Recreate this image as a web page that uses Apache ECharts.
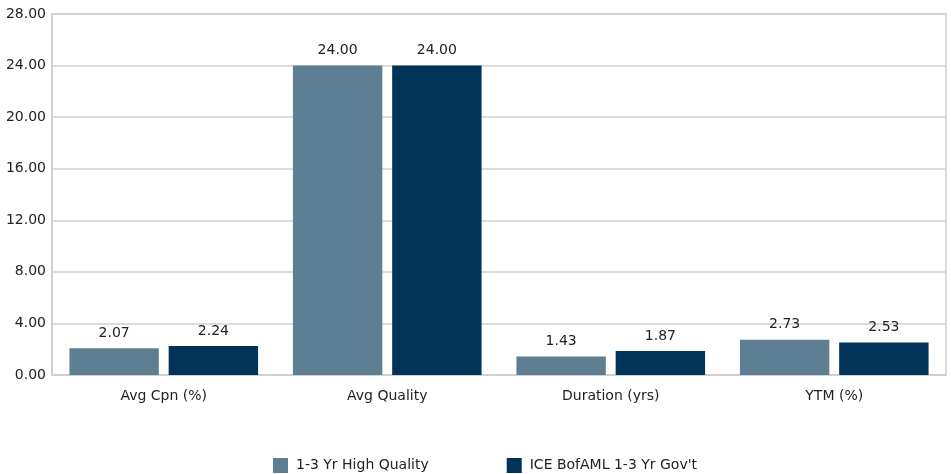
<!DOCTYPE html>
<html><head><meta charset="utf-8">
<script src="https://cdn.jsdelivr.net/npm/echarts@6/dist/echarts.min.js"></script>
<style>html,body{margin:0;padding:0;background:#fff}#c{width:951px;height:474px}</style>
</head><body><div id="c"></div>
<script>
const categories = ['Avg Cpn (%)', 'Avg Quality', 'Duration (yrs)', 'YTM (%)'];
const seriesNames = ['1-3 Yr High Quality', "ICE BofAML 1-3 Yr Gov't"];
const fundValues = [2.07, 24.00, 1.43, 2.73];
const benchValues = [2.24, 24.00, 1.87, 2.53];
const colors = ['#5e7f93', '#003358'];
const font = '"DejaVu Sans", sans-serif';
const chart = echarts.init(document.getElementById('c'));
const lbl = {show: true, position: 'top', distance: 8, color: '#222', fontSize: 14, fontFamily: font,
  formatter: p => p.value.toFixed(2)};
chart.setOption({
  animation: false,
  color: colors,
  grid: {left: 52, right: 5, top: 14, bottom: 99, show: true, borderColor: '#d0d0d0', borderWidth: 1.5},
  legend: {top: 453, left: 268, itemWidth: 15, itemHeight: 15, itemGap: 78, itemStyle: {borderWidth: 0}, icon: 'rect',
    textStyle: {fontSize: 14, color: '#222', fontFamily: font, padding: [0, 0, 0, 3]}},
  xAxis: {type: 'category', data: categories,
    axisLine: {lineStyle: {color: '#d0d0d0', width: 1.5}}, axisTick: {show: false},
    axisLabel: {margin: 14, fontSize: 14, color: '#222', fontFamily: font}},
  yAxis: {type: 'value', min: 0, max: 28, interval: 4,
    axisLine: {show: true, lineStyle: {color: '#d0d0d0', width: 2}},
    splitLine: {lineStyle: {color: '#d0d0d0', width: 1.5}},
    axisLabel: {margin: 6, fontSize: 14, color: '#222', fontFamily: font, formatter: v => v.toFixed(2)}},
  series: [
    {name: seriesNames[0], type: 'bar', data: fundValues, barWidth: '40%', barGap: '11%', label: lbl},
    {name: seriesNames[1], type: 'bar', data: benchValues, barWidth: '40%', label: lbl}
  ]
});
</script></body></html>
